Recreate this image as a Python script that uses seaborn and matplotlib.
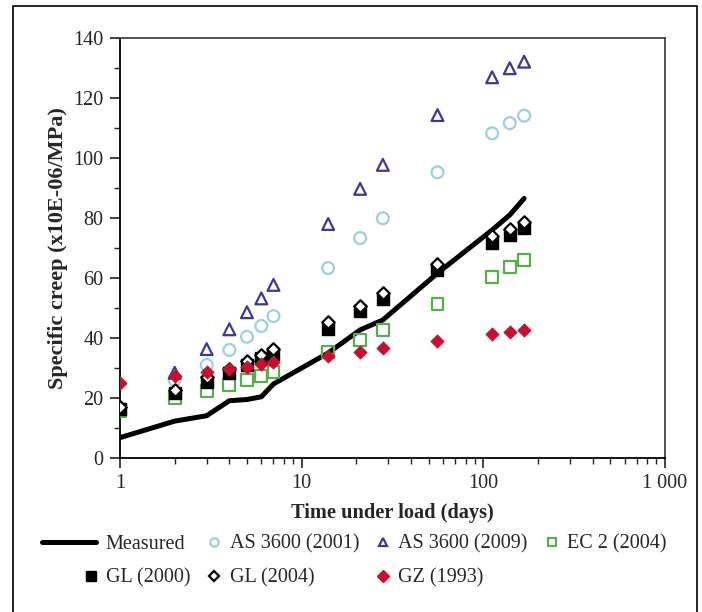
import numpy as np
import pandas as pd
import matplotlib
matplotlib.use('Agg')
import matplotlib.pyplot as plt
import seaborn as sns
from matplotlib.lines import Line2D
from matplotlib.patches import Rectangle
from matplotlib.legend_handler import HandlerLine2D
from matplotlib.ticker import FixedLocator, LogLocator, FuncFormatter

# data
days = [1, 2, 3, 4, 5, 6, 7, 14, 21, 28, 56, 112, 140, 168]
measured = [6.8, 12.3, 14.1, 19.1, 19.5, 20.4, 24.7, 35.0, 42.7, 46.0, 61.6, 76.0, 81.0, 86.5]

days_as = [2, 3, 4, 5, 6, 7, 14, 21, 28, 56, 112, 140, 168]
as3600_2001 = [26.0, 31.0, 36.0, 40.4, 44.0, 47.3, 63.3, 73.3, 79.9, 95.2, 108.2, 111.6, 114.1]
as3600_2009 = [28.4, 36.3, 42.9, 48.6, 53.2, 57.7, 78.0, 89.7, 97.7, 114.3, 126.9, 129.9, 132.1]

ec2_2004 = [15.7, 19.9, 22.3, 24.3, 26.0, 27.4, 28.8, 35.2, 39.3, 42.7, 51.3, 60.4, 63.6, 66.0]
gl_2000 = [16.3, 21.8, 25.4, 28.4, 31.0, 33.4, 34.7, 43.0, 49.0, 52.9, 62.7, 71.8, 74.3, 76.7]
gl_2004 = [17.0, 22.7, 27.1, 29.6, 32.4, 34.3, 36.3, 45.2, 50.7, 54.9, 64.7, 74.0, 76.3, 78.7]
gz_1993 = [25.1, 27.4, 28.8, 29.7, 30.4, 31.2, 31.9, 34.0, 35.4, 36.6, 39.0, 41.2, 42.1, 42.7]

x_ticks = [1, 10, 100, 1000]
x_tick_labels = ['1', '10', '100', '1 000']


class LongLine(HandlerLine2D):
    # stretch the "Measured" line to the left of its handle box
    def create_artists(self, legend, orig_handle, xdescent, ydescent,
                       width, height, fontsize, trans):
        y = height / 2 - ydescent
        line = Line2D([-xdescent - 29, width - xdescent - 2], [y, y],
                      color='black', lw=3.6, solid_capstyle='round')
        line.set_transform(trans)
        return [line]


def plot_creep():
    sns.set_style('white')
    plt.rcParams['font.family'] = ['Liberation Serif', 'DejaVu Serif']
    plt.rcParams['font.size'] = 14.5

    fig, ax = plt.subplots(figsize=(7.02, 6.12), dpi=100)
    fig.subplots_adjust(left=0.171, right=0.947, top=0.938, bottom=0.2516)

    df_m = pd.DataFrame({'t': days, 'v': measured})
    sns.lineplot(data=df_m, x='t', y='v', color='black', linewidth=3.6, ax=ax,
                 solid_capstyle='round', zorder=2)

    ms = 8.5
    sns.scatterplot(x=days_as, y=as3600_2001, marker='o', s=ms**2, facecolor='none',
                    edgecolor='#9ccfe0', linewidth=1.6, ax=ax, zorder=3)
    sns.scatterplot(x=days_as, y=as3600_2009, marker='^', s=ms**2, facecolor='none',
                    edgecolor='#3e3895', linewidth=1.6, ax=ax, zorder=3)
    sns.scatterplot(x=days, y=ec2_2004, marker='s', s=ms**2, facecolor='none',
                    edgecolor='#5aad4b', linewidth=1.6, ax=ax, zorder=3)
    sns.scatterplot(x=days, y=gl_2000, marker='s', s=ms**2, color='black',
                    edgecolor='black', linewidth=1, ax=ax, zorder=4)
    sns.scatterplot(x=days, y=gl_2004, marker='D', s=(ms * 0.75)**2, facecolor='white',
                    edgecolor='black', linewidth=1.6, ax=ax, zorder=5)
    sns.scatterplot(x=days, y=gz_1993, marker='D', s=(ms * 0.8)**2, color='#c8102e',
                    edgecolor='#c8102e', linewidth=0.5, ax=ax, zorder=6)

    # axes
    ax.set_xscale('log')
    ax.set_xlim(1, 1000)
    ax.set_ylim(0, 140)
    ax.xaxis.set_major_locator(FixedLocator(x_ticks))
    ax.xaxis.set_major_formatter(FuncFormatter(lambda v, p: x_tick_labels[x_ticks.index(int(round(v)))] if int(round(v)) in x_ticks else ''))
    ax.xaxis.set_minor_locator(LogLocator(base=10, subs=np.arange(2, 10)))
    ax.xaxis.set_minor_formatter(FuncFormatter(lambda v, p: ''))
    ax.set_yticks(range(0, 141, 20))
    ax.set_yticks(range(10, 140, 20), minor=True)
    ax.tick_params(axis='both', which='major', direction='out', length=7, width=1.2,
                   color='#222222', labelsize=14.5, pad=5)
    ax.tick_params(axis='both', which='minor', direction='out', length=4, width=1.0,
                   color='#222222')
    ax.tick_params(axis='x', which='major', pad=4.5)
    ax.tick_params(left=True, bottom=True, which='both')

    ax.set_xlabel('Time under load (days)', fontsize=14.7, fontweight='bold', labelpad=7)
    ax.set_ylabel('Specific creep (x10E-06/MPa)', fontsize=16, fontweight='bold', labelpad=4)

    for side in ['left', 'bottom']:
        ax.spines[side].set_color('black')
        ax.spines[side].set_linewidth(1.3)
    for side in ['top', 'right']:
        ax.spines[side].set_color('#444444')
        ax.spines[side].set_linewidth(1.3)

    # legend (column-major order to get the two rows right)
    h_meas = Line2D([], [], color='black', lw=3.6)
    h_as01 = Line2D([], [], ls='none', marker='o', ms=6, mfc='none', mec='#9ccfe0', mew=1.6)
    h_as09 = Line2D([], [], ls='none', marker='^', ms=6, mfc='none', mec='#3e3895', mew=1.6)
    h_ec2 = Line2D([], [], ls='none', marker='s', ms=6, mfc='none', mec='#5aad4b', mew=1.6)
    h_gl00 = Line2D([], [], ls='none', marker='s', ms=6.5, mfc='black', mec='black')
    h_gl04 = Line2D([], [], ls='none', marker='D', ms=5, mfc='white', mec='black', mew=1.6)
    h_gz = Line2D([], [], ls='none', marker='D', ms=6, mfc='#c8102e', mec='#c8102e')

    handles = [h_meas, h_gl00, h_as01, h_gl04, h_as09, h_gz, h_ec2]
    labels = ['Measured', 'GL (2000)', 'AS 3600 (2001)', 'GL (2004)',
              'AS 3600 (2009)', 'GZ (1993)', 'EC 2 (2004)']
    fig.legend(handles, labels, loc='center', bbox_to_anchor=(0.5335, 0.083),
               ncol=4, frameon=False, fontsize=14.5, handlelength=0.8,
               handletextpad=0.35, columnspacing=0.8, labelspacing=0.72,
               handler_map={h_meas: LongLine()})

    # outer frame
    fig.patches.append(Rectangle((13 / 702, -0.05), (697 - 13) / 702, 1 - 6 / 612 + 0.05,
                                 transform=fig.transFigure, fill=False,
                                 edgecolor='black', linewidth=1.2))

    fig.savefig('out.png', dpi=100)


def main():
    plot_creep()


if __name__ == '__main__':
    main()
